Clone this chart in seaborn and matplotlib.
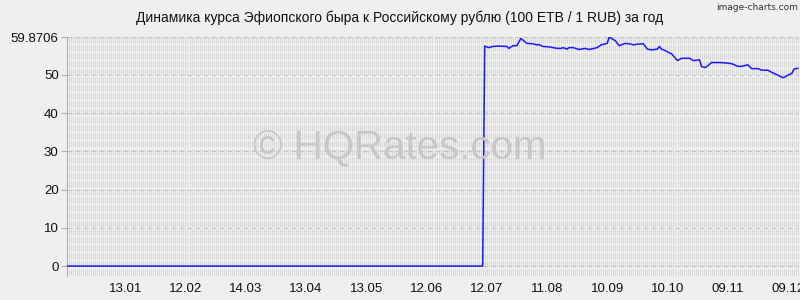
import matplotlib
matplotlib.use("Agg")
import matplotlib.pyplot as plt
import matplotlib.dates as mdates
import seaborn as sns
import pandas as pd

# ---- data ----
dates = [
    "2022-12-15", "2023-07-10",
    "2023-07-11", "2023-07-13", "2023-07-15", "2023-07-18", "2023-07-22", "2023-07-23",
    "2023-07-25", "2023-07-27", "2023-07-29", "2023-08-01", "2023-08-04", "2023-08-06",
    "2023-08-07", "2023-08-09", "2023-08-12", "2023-08-16", "2023-08-18", "2023-08-19",
    "2023-08-21", "2023-08-22", "2023-08-24", "2023-08-27", "2023-08-30", "2023-09-01",
    "2023-09-05", "2023-09-07", "2023-09-10", "2023-09-11", "2023-09-14", "2023-09-16",
    "2023-09-19", "2023-09-22", "2023-09-23", "2023-09-25", "2023-09-28", "2023-09-30",
    "2023-10-02", "2023-10-05", "2023-10-06", "2023-10-07", "2023-10-09", "2023-10-11",
    "2023-10-12", "2023-10-15", "2023-10-17", "2023-10-21", "2023-10-23", "2023-10-26",
    "2023-10-27", "2023-10-29", "2023-11-01", "2023-11-05", "2023-11-08", "2023-11-11",
    "2023-11-14", "2023-11-16", "2023-11-19", "2023-11-21", "2023-11-24", "2023-11-26",
    "2023-11-29", "2023-12-01", "2023-12-04", "2023-12-06", "2023-12-07", "2023-12-09",
    "2023-12-11", "2023-12-12", "2023-12-14",
]
rates = [
    0.0, 0.0,
    57.5, 57.1, 57.4, 57.5, 57.4, 56.9,
    57.6, 57.6, 59.5, 58.2, 58.1, 57.8,
    57.9, 57.4, 57.3, 56.9, 56.9, 57.1,
    56.7, 57.1, 57.1, 56.6, 56.9, 56.6,
    57.1, 57.8, 58.2, 59.8706, 58.9, 57.6,
    58.2, 58.0, 57.8, 58.0, 58.1, 56.7,
    56.5, 56.7, 57.4, 56.7, 56.3, 55.7,
    55.5, 53.7, 54.3, 54.3, 53.7, 53.9,
    52.1, 51.9, 53.2, 53.2, 53.1, 52.9,
    52.2, 52.2, 52.6, 51.6, 51.6, 51.2,
    51.2, 50.6, 49.9, 49.3, 49.3, 49.9,
    50.4, 51.5, 51.7,
]
tick_dates = ["2023-01-13", "2023-02-12", "2023-03-14", "2023-04-13", "2023-05-13",
              "2023-06-12", "2023-07-12", "2023-08-11", "2023-09-10", "2023-10-10",
              "2023-11-09", "2023-12-09"]
tick_labels = ["13.01", "12.02", "14.03", "13.04", "13.05", "12.06",
               "12.07", "11.08", "10.09", "10.10", "09.11", "09.12"]
y_ticks = [0, 10, 20, 30, 40, 50, 59.8706]
y_labels = ["0", "10", "20", "30", "40", "50", "59.8706"]
title = "Динамика курса Эфиопского быра к Российскому рублю (100 ETB / 1 RUB) за год"

df = pd.DataFrame({"date": pd.to_datetime(dates), "rate": rates})

sns.set_theme(style="white")
plt.rcParams["font.family"] = ["Liberation Sans", "DejaVu Sans"]

BG = "#efefef"
fig = plt.figure(figsize=(8, 3), dpi=100, facecolor=BG)
ax = fig.add_axes([67 / 800, 1 - 276 / 300, 732 / 800, (276 - 37) / 300])
ax.set_facecolor(BG)

xmin = pd.Timestamp("2022-12-15")
xmax = pd.Timestamp("2023-12-14 12:00")
ymin, ymax = -2.6, 59.8706

# dense vertical dashed grid (one per day)
days = pd.date_range(xmin, xmax, freq="D")
ax.vlines(mdates.date2num(days), ymax, ymin, colors="#d6d6d6",
          linewidth=0.72, linestyles=(0, (6, 2)), zorder=0)
# horizontal dashed grid at each tick
for yv in y_ticks:
    ax.axhline(yv, color="#c4c4c4", linewidth=0.72, linestyle=(0, (5, 3)), zorder=0)

# watermark
fig.text(0.5, 0.505, "© HQRates.com", ha="center", va="center",
         fontsize=29, color="#c8c8c8", zorder=0)

sns.lineplot(data=df, x="date", y="rate", ax=ax, color="#1a1aff",
             linewidth=1.1, zorder=3)

ax.set_xlim(xmin, xmax)
ax.set_ylim(ymin, ymax)
ax.set_xticks(pd.to_datetime(tick_dates))
ax.set_xticklabels(tick_labels, fontsize=9.5, color="#111111")
ax.set_yticks(y_ticks)
ax.set_yticklabels(y_labels, fontsize=9.5, color="#111111")
ax.set_xlabel("")
ax.set_ylabel("")

for s in ["top", "right", "bottom"]:
    ax.spines[s].set_visible(False)
ax.spines["left"].set_color("#b0b0b0")
ax.spines["left"].set_linewidth(0.8)
ax.tick_params(axis="y", length=4, width=0.8, color="#b0b0b0", pad=2, left=True)
ax.tick_params(axis="x", length=0, pad=5)

fig.text(0.5, 1 - 18 / 300, title, ha="center", va="center",
         fontsize=10, color="#111111")
fig.text(0.997, 1 - 7 / 300, "image-charts.com", ha="right", va="center",
         fontsize=6.5, color="#333333", family="DejaVu Sans")

fig.savefig("out.png", dpi=100, facecolor=BG)
